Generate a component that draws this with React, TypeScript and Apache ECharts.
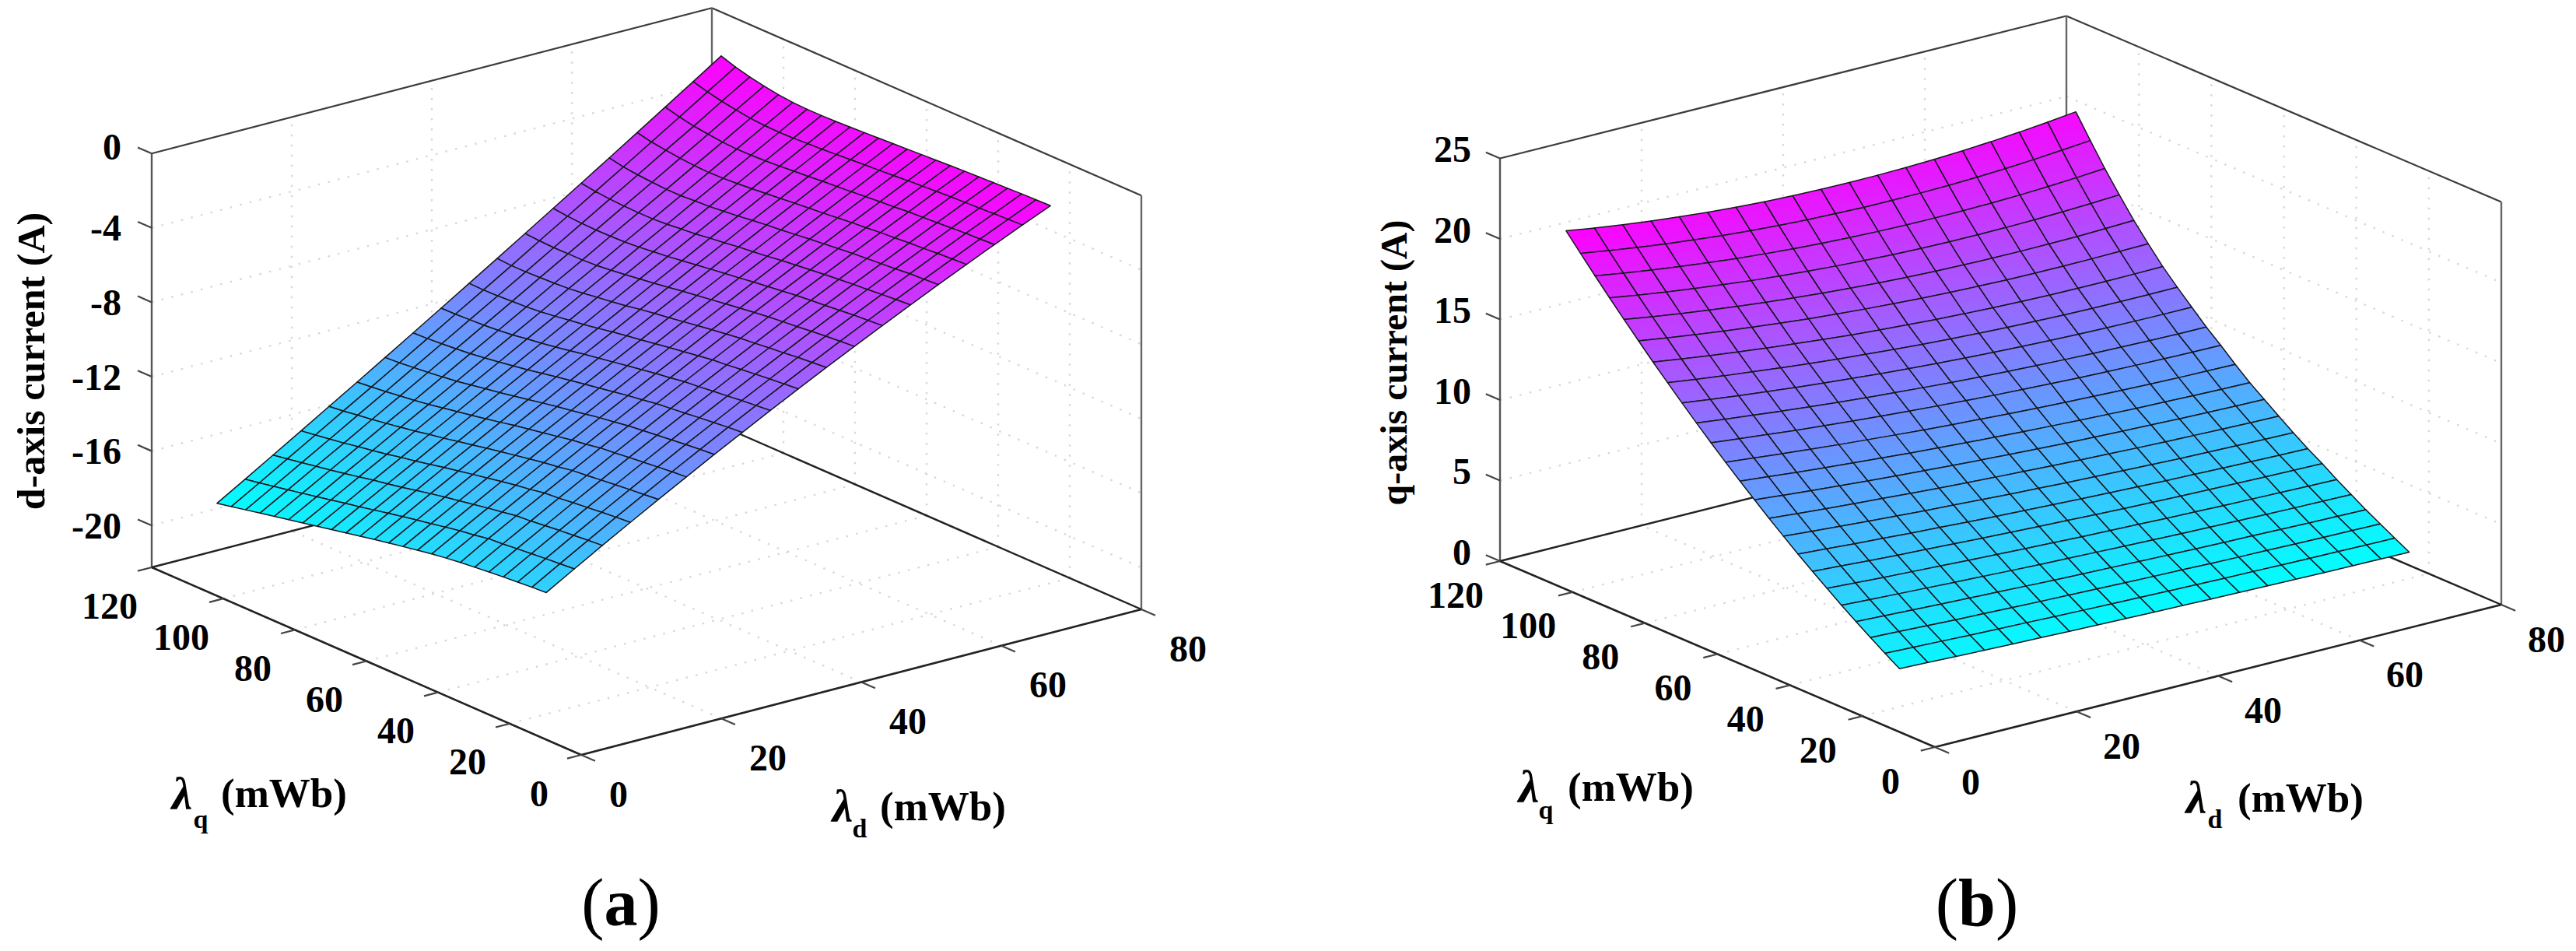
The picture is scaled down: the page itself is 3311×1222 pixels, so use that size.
import React, { useEffect, useRef } from "react";
import * as echarts from "echarts";

const LAMBDA_D = [8, 12, 16, 20, 24, 28, 32, 36, 40, 44, 48, 52, 56, 60, 64, 68, 72, 76, 80];
const LAMBDA_Q = [25.4, 29.4, 33.4, 37.4, 41.4, 45.4, 49.4, 53.4, 57.4, 61.4, 65.4, 69.4, 73.4, 77.4, 81.4, 85.4, 89.4, 93.4, 97.4, 101.4, 105.4, 109.4, 113.4, 117.4];

const D_TICKS = [0, 20, 40, 60, 80];
const Q_TICKS = [0, 20, 40, 60, 80, 100, 120];
const ID_TICKS = [0, -4, -8, -12, -16, -20];
const IQ_TICKS = [0, 5, 10, 15, 20, 25];

// one row per lambda_q, one column per lambda_d
const I_D = [
  [-16.44, -15.56, -14.69, -13.84, -13.0, -12.18, -11.36, -10.57, -9.78, -9.01, -8.25, -7.51, -6.78, -6.06, -5.36, -4.67, -3.99, -3.33, -2.68],
  [-16.49, -15.62, -14.75, -13.9, -13.07, -12.24, -11.43, -10.63, -9.85, -9.08, -8.32, -7.57, -6.84, -6.11, -5.41, -4.71, -4.03, -3.36, -2.7],
  [-16.55, -15.68, -14.82, -13.97, -13.14, -12.32, -11.5, -10.71, -9.92, -9.15, -8.38, -7.63, -6.89, -6.17, -5.45, -4.75, -4.06, -3.39, -2.72],
  [-16.61, -15.75, -14.89, -14.05, -13.22, -12.4, -11.59, -10.79, -10.01, -9.23, -8.47, -7.71, -6.97, -6.24, -5.52, -4.81, -4.11, -3.43, -2.75],
  [-16.68, -15.82, -14.97, -14.13, -13.3, -12.48, -11.67, -10.88, -10.09, -9.31, -8.54, -7.79, -7.04, -6.3, -5.58, -4.86, -4.16, -3.46, -2.78],
  [-16.76, -15.9, -15.06, -14.22, -13.39, -12.57, -11.76, -10.96, -10.18, -9.4, -8.63, -7.86, -7.11, -6.37, -5.64, -4.92, -4.21, -3.5, -2.81],
  [-16.84, -15.95, -15.11, -14.28, -13.46, -12.64, -11.84, -11.04, -10.25, -9.47, -8.7, -7.94, -7.18, -6.44, -5.7, -4.97, -4.25, -3.54, -2.84],
  [-16.94, -16.09, -15.25, -14.42, -13.6, -12.78, -11.97, -11.17, -10.38, -9.59, -8.81, -8.04, -7.28, -6.53, -5.78, -5.05, -4.32, -3.59, -2.88],
  [-17.05, -16.2, -15.37, -14.53, -13.71, -12.89, -12.08, -11.28, -10.48, -9.7, -8.91, -8.14, -7.37, -6.61, -5.86, -5.11, -4.38, -3.64, -2.92],
  [-17.19, -16.34, -15.51, -14.67, -13.85, -13.03, -12.22, -11.41, -10.61, -9.82, -9.03, -8.25, -7.47, -6.7, -5.94, -5.19, -4.44, -3.7, -2.96],
  [-17.33, -16.49, -15.65, -14.82, -13.99, -13.17, -12.36, -11.55, -10.74, -9.95, -9.15, -8.36, -7.58, -6.81, -6.03, -5.27, -4.51, -3.75, -3.0],
  [-17.47, -16.63, -15.79, -14.96, -14.13, -13.31, -12.49, -11.68, -10.87, -10.07, -9.27, -8.47, -7.68, -6.9, -6.12, -5.34, -4.57, -3.8, -3.04],
  [-17.62, -16.78, -15.94, -15.11, -14.28, -13.45, -12.63, -11.81, -11.0, -10.19, -9.38, -8.58, -7.78, -6.98, -6.19, -5.41, -4.62, -3.85, -3.08],
  [-17.78, -16.94, -16.1, -15.26, -14.44, -13.61, -12.78, -11.95, -11.13, -10.32, -9.5, -8.7, -7.89, -7.09, -6.28, -5.49, -4.7, -3.91, -3.12],
  [-17.94, -17.1, -16.27, -15.43, -14.59, -13.76, -12.93, -12.1, -11.28, -10.46, -9.64, -8.82, -8.0, -7.18, -6.38, -5.56, -4.75, -3.96, -3.16],
  [-18.1, -17.26, -16.42, -15.59, -14.75, -13.91, -13.08, -12.25, -11.41, -10.59, -9.76, -8.93, -8.11, -7.29, -6.46, -5.64, -4.82, -4.0, -3.19],
  [-18.25, -17.41, -16.56, -15.73, -14.88, -14.05, -13.21, -12.37, -11.54, -10.7, -9.86, -9.03, -8.19, -7.36, -6.54, -5.7, -4.87, -4.04, -3.21],
  [-18.41, -17.57, -16.72, -15.89, -15.04, -14.19, -13.34, -12.5, -11.65, -10.82, -9.97, -9.13, -8.28, -7.44, -6.58, -5.75, -4.9, -4.06, -3.21],
  [-18.57, -17.73, -16.87, -16.03, -15.17, -14.33, -13.48, -12.62, -11.77, -10.92, -10.06, -9.21, -8.34, -7.49, -6.63, -5.77, -4.91, -4.04, -3.18],
  [-18.73, -17.88, -17.02, -16.16, -15.3, -14.45, -13.58, -12.72, -11.86, -10.99, -10.11, -9.25, -8.36, -7.49, -6.63, -5.74, -4.87, -3.98, -3.1],
  [-18.89, -18.03, -17.16, -16.3, -15.42, -14.55, -13.67, -12.8, -11.92, -11.03, -10.14, -9.25, -8.37, -7.47, -6.58, -5.68, -4.78, -3.87, -2.97],
  [-19.05, -18.18, -17.3, -16.42, -15.53, -14.65, -13.75, -12.86, -11.96, -11.07, -10.17, -9.26, -8.35, -7.43, -6.52, -5.59, -4.68, -3.74, -2.82],
  [-19.21, -18.33, -17.43, -16.54, -15.64, -14.74, -13.83, -12.92, -12.0, -11.09, -10.17, -9.23, -8.3, -7.36, -6.43, -5.48, -4.53, -3.57, -2.62],
  [-19.37, -18.47, -17.56, -16.65, -15.73, -14.81, -13.88, -12.95, -12.01, -11.07, -10.12, -9.17, -8.21, -7.25, -6.28, -5.31, -4.33, -3.35, -2.36],
];

const I_Q = [
  [1.54, 1.48, 1.42, 1.36, 1.31, 1.26, 1.21, 1.16, 1.12, 1.08, 1.04, 1.0, 0.97, 0.94, 0.91, 0.88, 0.86, 0.84, 0.82],
  [2.11, 2.04, 1.98, 1.91, 1.85, 1.8, 1.74, 1.69, 1.64, 1.6, 1.55, 1.51, 1.47, 1.44, 1.4, 1.37, 1.35, 1.32, 1.3],
  [2.7, 2.63, 2.55, 2.48, 2.42, 2.35, 2.29, 2.24, 2.18, 2.13, 2.08, 2.04, 1.99, 1.95, 1.92, 1.88, 1.85, 1.83, 1.8],
  [3.31, 3.23, 3.15, 3.07, 3.0, 2.93, 2.86, 2.79, 2.73, 2.68, 2.62, 2.57, 2.52, 2.48, 2.44, 2.4, 2.36, 2.33, 2.3],
  [3.94, 3.85, 3.76, 3.68, 3.59, 3.52, 3.44, 3.37, 3.31, 3.25, 3.19, 3.13, 3.08, 3.03, 2.99, 2.95, 2.91, 2.88, 2.85],
  [4.6, 4.5, 4.4, 4.31, 4.22, 4.13, 4.05, 3.97, 3.9, 3.83, 3.77, 3.71, 3.65, 3.6, 3.55, 3.51, 3.47, 3.43, 3.4],
  [5.27, 5.16, 5.05, 4.95, 4.86, 4.77, 4.68, 4.6, 4.52, 4.45, 4.38, 4.31, 4.25, 4.2, 4.15, 4.11, 4.07, 4.03, 4.0],
  [5.96, 5.84, 5.72, 5.61, 5.5, 5.4, 5.3, 5.21, 5.13, 5.05, 4.97, 4.9, 4.83, 4.77, 4.72, 4.67, 4.62, 4.58, 4.55],
  [6.68, 6.54, 6.42, 6.29, 6.17, 6.06, 5.96, 5.86, 5.76, 5.68, 5.59, 5.52, 5.45, 5.38, 5.32, 5.27, 5.23, 5.19, 5.15],
  [7.41, 7.26, 7.12, 6.99, 6.87, 6.75, 6.63, 6.53, 6.43, 6.34, 6.25, 6.17, 6.1, 6.03, 5.97, 5.92, 5.87, 5.83, 5.8],
  [8.17, 8.01, 7.86, 7.72, 7.58, 7.45, 7.33, 7.22, 7.11, 7.01, 6.92, 6.83, 6.76, 6.69, 6.63, 6.57, 6.52, 6.48, 6.45],
  [8.95, 8.78, 8.61, 8.46, 8.31, 8.17, 8.04, 7.92, 7.8, 7.7, 7.6, 7.51, 7.42, 7.35, 7.28, 7.23, 7.18, 7.13, 7.1],
  [9.74, 9.56, 9.38, 9.22, 9.06, 8.92, 8.78, 8.65, 8.53, 8.43, 8.32, 8.23, 8.15, 8.08, 8.01, 7.96, 7.91, 7.88, 7.85],
  [10.56, 10.37, 10.19, 10.01, 9.85, 9.7, 9.56, 9.43, 9.31, 9.2, 9.09, 9.0, 8.92, 8.85, 8.79, 8.74, 8.7, 8.67, 8.65],
  [11.4, 11.19, 11.0, 10.81, 10.64, 10.48, 10.32, 10.19, 10.06, 9.94, 9.83, 9.74, 9.66, 9.59, 9.53, 9.48, 9.44, 9.41, 9.4],
  [12.26, 12.04, 11.83, 11.64, 11.45, 11.29, 11.13, 10.98, 10.85, 10.74, 10.63, 10.54, 10.46, 10.39, 10.34, 10.3, 10.27, 10.25, 10.25],
  [13.14, 12.9, 12.68, 12.48, 12.29, 12.11, 11.94, 11.8, 11.66, 11.54, 11.43, 11.34, 11.26, 11.2, 11.15, 11.12, 11.1, 11.09, 11.1],
  [14.03, 13.78, 13.55, 13.33, 13.13, 12.95, 12.78, 12.62, 12.49, 12.37, 12.26, 12.17, 12.1, 12.04, 12.0, 11.98, 11.97, 11.98, 12.0],
  [14.96, 14.7, 14.46, 14.24, 14.04, 13.85, 13.68, 13.53, 13.4, 13.29, 13.19, 13.11, 13.05, 13.0, 12.98, 12.97, 12.98, 13.0, 13.03],
  [15.9, 15.63, 15.38, 15.16, 14.95, 14.76, 14.59, 14.44, 14.31, 14.2, 14.11, 14.04, 13.99, 13.96, 13.95, 13.96, 13.98, 14.03, 14.1],
  [16.86, 16.59, 16.34, 16.11, 15.91, 15.72, 15.56, 15.42, 15.3, 15.2, 15.12, 15.07, 15.04, 15.03, 15.04, 15.07, 15.13, 15.2, 15.3],
  [17.84, 17.57, 17.32, 17.09, 16.89, 16.71, 16.56, 16.43, 16.32, 16.24, 16.18, 16.14, 16.13, 16.14, 16.17, 16.23, 16.31, 16.42, 16.55],
  [18.85, 18.58, 18.33, 18.11, 17.92, 17.75, 17.61, 17.49, 17.4, 17.34, 17.29, 17.28, 17.29, 17.33, 17.39, 17.48, 17.6, 17.74, 17.9],
  [19.87, 19.6, 19.36, 19.15, 18.97, 18.81, 18.68, 18.58, 18.51, 18.47, 18.45, 18.46, 18.49, 18.56, 18.65, 18.77, 18.92, 19.1, 19.3],
];

const FONT = '"Liberation Serif", "Times New Roman", serif';
const W = 3311;
const H = 1222;

type Panel = {
  key: string; rows: number[][]; zTicks: number[];
  ox: number; oy: number; dx: number; dy: number; qx: number; qy: number;
  zMin: number; zMax: number; zs: number; cMin: number; cMax: number;
  zLabelX: number; zLabelDy: (v: number) => number;
  qLabel: [number, number]; dLabel: [number, number];
  title: string; titleX: number; titleY: number; titleSize: number;
  lq: [number, number, number, number, number, number];
  ld: [number, number, number, number, number, number];
};

const PANELS: Panel[] = [
  {
    key: "a", rows: I_D, zTicks: ID_TICKS,
    ox: 747, oy: 970, dx: 720, dy: -187, qx: -552, qy: -241,
    zMin: -22.25, zMax: 0, zs: 23.9, cMin: -19.37, cMax: -2.36,
    zLabelX: 156, zLabelDy: (v) => (v === 0 ? -9 : 0),
    qLabel: [-54, 49], dLabel: [36, 50],
    title: "d-axis current (A)", titleX: 40, titleY: 464, titleSize: 50,
    lq: [234, 1020, 258, 1052, 284, 1019],
    ld: [1083, 1036, 1105, 1064, 1131, 1036],
  },
  {
    key: "b", rows: I_Q, zTicks: IQ_TICKS,
    ox: 2487, oy: 960, dx: 728, dy: -183, qx: -559, qy: -239,
    zMin: 0, zMax: 25, zs: 20.7, cMin: 0.82, cMax: 19.87,
    zLabelX: 1891, zLabelDy: () => -12,
    qLabel: [-57, 43], dLabel: [34, 44],
    title: "q-axis current (A)", titleX: 1791, titleY: 466, titleSize: 48,
    lq: [1965, 1011, 1987, 1040, 2015, 1011],
    ld: [2823, 1025, 2847, 1052, 2876, 1025],
  },
];

function project(p: Panel, d: number, q: number, z: number): [number, number] {
  return [
    p.ox + (d / 80) * p.dx + (q / 120) * p.qx,
    p.oy + (d / 80) * p.dy + (q / 120) * p.qy - (z - p.zMin) * p.zs,
  ];
}

function cool(p: Panel, z: number) {
  const v = Math.max(0, Math.min(1, (z - p.cMin) / (p.cMax - p.cMin)));
  return `rgb(${Math.round(255 * v)},${Math.round(255 * (1 - v))},255)`;
}

function frameItem(p: Panel, api: any) {
  const at = (d: number, q: number, z: number) => api.coord(project(p, d, q, z));
  const children: any[] = [];
  const seg = (a: number[], b: number[], stroke: string, lineWidth: number, dash?: number[]) =>
    children.push({
      type: "line",
      shape: { x1: a[0], y1: a[1], x2: b[0], y2: b[1] },
      style: { stroke, lineWidth, lineDash: dash, fill: null },
    });
  const grid = "#d8d8d8";
  const dots = [2.5, 10.5];
  const { zMin, zMax } = p;
  for (const d of D_TICKS) {
    if (d > 0 && d < 80) {
      seg(at(d, 0, zMin), at(d, 120, zMin), grid, 2.4, dots);
      seg(at(d, 120, zMin), at(d, 120, zMax), grid, 2.4, dots);
    }
  }
  for (const q of Q_TICKS) {
    if (q > 0 && q < 120) {
      seg(at(0, q, zMin), at(80, q, zMin), grid, 2.4, dots);
      seg(at(80, q, zMin), at(80, q, zMax), grid, 2.4, dots);
    }
  }
  for (const z of p.zTicks) {
    if (z > zMin && z < zMax) {
      seg(at(0, 120, z), at(80, 120, z), grid, 2.4, dots);
      seg(at(80, 120, z), at(80, 0, z), grid, 2.4, dots);
    }
  }
  const dark = "#3c3c3c";
  seg(at(0, 120, zMin), at(0, 120, zMax), "#555", 2.4);
  seg(at(0, 120, zMax), at(80, 120, zMax), dark, 2.2);
  seg(at(80, 120, zMax), at(80, 0, zMax), dark, 2.2);
  seg(at(80, 120, zMin), at(80, 120, zMax), "#666", 2.4);
  seg(at(80, 0, zMin), at(80, 0, zMax), "#666", 2.4);
  seg(at(0, 120, zMin), at(80, 120, zMin), "#222", 2.4);
  seg(at(80, 120, zMin), at(80, 0, zMin), "#222", 2.4);
  seg(at(0, 0, zMin), at(0, 120, zMin), "#222", 2.6);
  seg(at(0, 0, zMin), at(80, 0, zMin), "#222", 2.6);

  const label = (text: string, x: number, y: number, align: string, size = 48, weight = "bold") =>
    children.push({
      type: "text",
      style: {
        text, x, y, align, verticalAlign: "middle", fill: "#000",
        font: `${weight} ${size}px ${FONT}`,
      },
    });

  for (const z of p.zTicks) {
    const b = at(0, 120, z);
    seg(b, at(0, 123.9, z), "#444", 2.2);
    label(String(z), api.coord([p.zLabelX, 0])[0], b[1] + p.zLabelDy(z), "right");
  }
  for (const q of Q_TICKS) {
    const b = at(0, q, zMin);
    seg(b, at(-2, q, zMin), "#444", 2.2);
    label(String(q), b[0] + p.qLabel[0], b[1] + p.qLabel[1], "center");
  }
  for (const d of D_TICKS) {
    const b = at(d, 0, zMin);
    seg(b, at(d, -3.9, zMin), "#444", 2.2);
    label(String(d), b[0] + p.dLabel[0], b[1] + p.dLabel[1], "left");
  }

  const t = api.coord([p.titleX, p.titleY]);
  children.push({
    type: "text",
    x: t[0], y: t[1], rotation: Math.PI / 2,
    style: {
      text: p.title, x: 0, y: 0, align: "center", verticalAlign: "middle", fill: "#000",
      font: `bold ${p.titleSize}px ${FONT}`,
    },
  });

  const [a, b, c, d2, e, f] = p.lq;
  const [g, h, i, j, k, l] = p.ld;
  label("λ", a, b, "center", 60, "italic bold");
  label("q", c, d2, "center", 34);
  label("(mWb)", e, f, "left", 53);
  label("λ", g, h, "center", 60, "italic bold");
  label("d", i, j, "center", 34);
  label("(mWb)", k, l, "left", 53);
  return { type: "group", children };
}

function cellItem(p: Panel, api: any, n: number) {
  const m = LAMBDA_D.length - 1;
  const qi = Math.floor(n / m);
  const di = n % m;
  const vs = [
    [di, qi],
    [di + 1, qi],
    [di + 1, qi + 1],
    [di, qi + 1],
  ].map(([a, b]) => {
    const z = p.rows[b][a];
    return { pt: api.coord(project(p, LAMBDA_D[a], LAMBDA_Q[b], z)), z };
  });
  const sorted = [...vs].sort((u, v) => u.pt[1] - v.pt[1]);
  const topZ = (sorted[0].z + sorted[1].z) / 2;
  const botZ = (sorted[2].z + sorted[3].z) / 2;
  return {
    type: "polygon",
    shape: { points: vs.map((v) => v.pt) },
    style: {
      fill: {
        type: "linear", x: 0, y: 0, x2: 0, y2: 1,
        colorStops: [
          { offset: 0, color: cool(p, topZ) },
          { offset: 1, color: cool(p, botZ) },
        ],
      },
      stroke: "#17171c",
      lineWidth: 1.5,
      lineJoin: "round",
    },
  };
}

export default function App() {
  const ref = useRef<HTMLDivElement>(null);
  useEffect(() => {
    document.body.style.margin = "0";
    document.body.style.background = "#fff";
    document.documentElement.style.overflow = "hidden";
    const chart = echarts.init(ref.current!, undefined, { renderer: "svg" });
    const nCells = (LAMBDA_D.length - 1) * (LAMBDA_Q.length - 1);
    // back-to-front: highest lambda_q and lambda_d first
    const cellOrder = Array.from({ length: nCells }, (_, i) => nCells - 1 - i);
    const series: any[] = [];
    PANELS.forEach((p) => {
      series.push({
        type: "custom", coordinateSystem: "cartesian2d", silent: true, z: 1,
        data: [[0, 0]], clip: false,
        renderItem: (_: any, api: any) => frameItem(p, api),
      });
      series.push({
        type: "custom", coordinateSystem: "cartesian2d", silent: true, z: 2,
        data: cellOrder.map((n) => [n, 0]), clip: false,
        renderItem: (_: any, api: any) => cellItem(p, api, api.value(0)),
      });
    });
    const capt = (x: number, letter: string) => ({
      type: "text", x, y: 1160,
      style: {
        text: `{p|(}{b|${letter}}{p|)}`,
        align: "center", verticalAlign: "middle",
        rich: {
          p: { font: `88px ${FONT}`, fill: "#000" },
          b: { font: `bold 86px ${FONT}`, fill: "#000" },
        },
      },
    });
    chart.setOption({
      animation: false,
      backgroundColor: "#fff",
      grid: { left: 0, top: 0, width: W, height: H, containLabel: false },
      xAxis: { type: "value", min: 0, max: W, show: false },
      yAxis: { type: "value", min: 0, max: H, inverse: true, show: false },
      graphic: [capt(798, "a"), capt(2541, "b")],
      series,
    });
    return () => chart.dispose();
  }, []);
  return <div ref={ref} style={{ width: W, height: H }} />;
}
